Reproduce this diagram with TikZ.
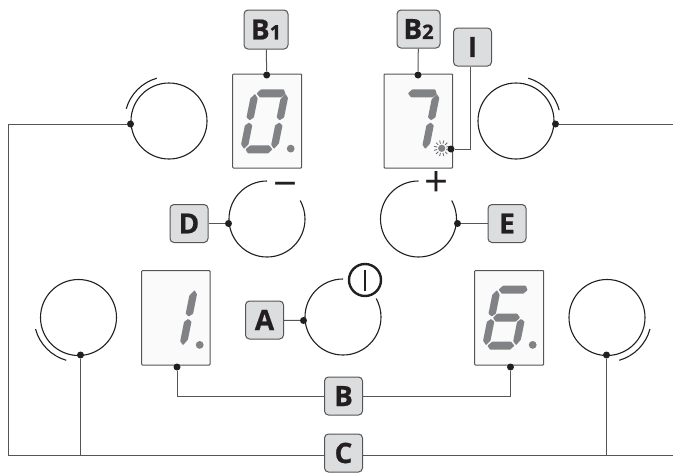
\documentclass[tikz,border=0pt]{standalone}
\usepackage{fontspec}
\setsansfont{Open Sans}[BoldFeatures={FakeBold=0.6}]
\newfontfamily\symfont{Open Sans}
\definecolor{seg}{HTML}{808285}
\definecolor{lab}{HTML}{DCDDDE}
\definecolor{wire}{HTML}{555555}
\definecolor{ink}{HTML}{231F20}
\tikzset{
  x=1pt,y=1pt,
  tag/.style={draw=wire,fill=lab,rounded corners=4pt,line width=1pt,minimum width=38pt,minimum height=38pt,inner sep=0pt,font=\sffamily\bfseries\fontsize{28}{28}\selectfont,text=ink},
  wirel/.style={draw=wire,line width=1pt},
  knob/.style={draw=ink,line width=1.1pt},
  blob/.style={circle,fill=ink,inner sep=0pt,minimum size=7pt},
  screen/.style={draw=wire,fill=black!2,line width=1pt,rounded corners=0.8pt},
  segm/.style={fill=seg,rounded corners=0.6pt},
  sym/.style={inner sep=0pt,text=ink,font=\symfont\fontsize{42}{42}\selectfont},
}
\newcommand{\segA}{\fill[segm] (-9.5,24)--(12,24)--(15.5,27.5)--(13,32)--(-10,32)--(-13.5,28)--cycle;}
\newcommand{\segG}{\fill[segm] (-10,-4)--(10,-4)--(13.5,0)--(10,4)--(-10,4)--(-13.5,0)--cycle;}
\newcommand{\segD}{\fill[segm] (-9.5,-24)--(9.5,-24)--(13.5,-28)--(10,-32)--(-10,-32)--(-13.5,-28)--cycle;}
\newcommand{\segB}{\fill[segm] (15.5,27.5)--(18.8,23.5)--(18.8,4)--(15,1.2)--(11.4,4)--(11.4,22)--cycle;}
\newcommand{\segC}{\fill[segm] (15,-1.2)--(18.8,-4)--(18.8,-22)--(15,-27.5)--(11.4,-23.5)--(11.4,-4)--cycle;}
\newcommand{\segF}{\fill[segm] (-15,27.5)--(-11.4,23)--(-11.4,4)--(-15,1.2)--(-18.8,4)--(-18.8,23)--cycle;}
\newcommand{\segE}{\fill[segm] (-15,-1.2)--(-11.4,-4)--(-11.4,-23)--(-15,-27.5)--(-18.8,-23)--(-18.8,-4)--cycle;}
\newcommand{\segs}[3]{\begin{scope}[shift={(#1+31.8,-#2-47.4)},xslant=0.2]#3\end{scope}}
\newcommand{\dotp}[2]{\fill[seg] (#1+58,-#2-74.6) circle[radius=3.9];}
\begin{document}
\begin{tikzpicture}
\useasboundingbox (0,0) rectangle (673,-472);
% circle centres
\coordinate (cTL) at (169,-121);
\coordinate (cTR) at (516,-121);
\coordinate (cBL) at (78.5,-317.5);
\coordinate (cBR) at (607,-317.5);
% full knobs
\draw[knob] (cTL) circle[radius=38];
\draw[knob] (cTR) circle[radius=38];
\draw[knob] (cBL) circle[radius=38];
\draw[knob] (cBR) circle[radius=38];
\draw[knob] (cTL) ++(164:44.5) arc[start angle=164,end angle=106,radius=44.5];
\draw[knob] (cTR) ++(74:44.5) arc[start angle=74,end angle=14,radius=44.5];
\draw[knob] (cBL) ++(195:44.5) arc[start angle=195,end angle=254,radius=44.5];
\draw[knob] (cBR) ++(286:44.5) arc[start angle=286,end angle=345,radius=44.5];
% open knobs
\draw[knob] (267,-181) arc[start angle=90,end angle=389,radius=38];
\draw[knob] (418.5,-181) arc[start angle=90,end angle=389,radius=38];
\draw[knob] (343,-279) arc[start angle=90,end angle=389,radius=38];
% symbols
\node[sym] at (286,-190) {−};
\node[sym] at (436.7,-184) {+};
\draw[ink,line width=2.4pt] (365,-280) circle[radius=16];
\draw[ink,line width=1.2pt] (365,-270) -- (365,-291);
% displays
\draw[screen] (232.7,-74) rectangle (301.7,-168);
\draw[screen] (384,-74) rectangle (452.7,-168);
\draw[screen] (141.7,-270.5) rectangle (210,-365);
\draw[screen] (474.7,-270.5) rectangle (543.7,-365);
\segs{232.7}{74}{\segA\segB\segC\segD\segE\segF}
\dotp{232.7}{74}
\segs{384}{74}{\segA\segB\segC}
\segs{141.7}{270.3}{\segB\segC}
\dotp{141.7}{270.3}
\segs{474.7}{270.3}{\segA\segC\segD\segE\segF\segG}
\dotp{474.7}{270.3}
% spark
\fill[seg] (441.7,-148.3) circle[radius=3.6];
\foreach \a in {15,45,...,345}
  \draw[seg!80!black,line width=0.8pt] (441.7,-148.3) ++(\a:4.8) -- ++(\a:3.2);
% tags
\node[tag,minimum width=44pt,minimum height=39pt] (tB1) at (266,-29.5) {B\fontsize{20}{20}\selectfont 1};
\node[tag,minimum width=43pt,minimum height=38pt] (tB2) at (418.5,-29) {B\fontsize{20}{20}\selectfont 2};
\node[tag] (tI) at (472.5,-47) {I};
\node[tag] (tD) at (189,-223.5) {D};
\node[tag] (tE) at (507,-223.5) {E};
\node[tag] (tA) at (264.5,-320) {A};
\node[tag] (tB) at (343.5,-396) {B};
\node[tag] (tC) at (343.5,-453) {C};
% dots
\node[blob] (dTL) at (130.5,-124) {};
\node[blob] (dTR) at (555.5,-124) {};
\node[blob] (dBL) at (80.5,-355) {};
\node[blob] (dBR) at (606.5,-355) {};
\node[blob] (dB1) at (266.7,-75) {};
\node[blob] (dB2) at (418,-75) {};
\node[blob] (dI) at (451,-149) {};
\node[blob] (dD) at (228.5,-223.5) {};
\node[blob] (dE) at (457.5,-223.5) {};
\node[blob] (dA) at (303.5,-320.5) {};
\node[blob] (d1) at (177,-367) {};
\node[blob] (d6) at (510.5,-367) {};
\coordinate (eR) at (673,-124);
\coordinate (bL) at (8,-455);
\coordinate (bR) at (673,-455);
\coordinate (iX) at (470,-149);
% connectors
\draw[wirel] (tB1) -- (dB1);
\draw[wirel] (tB2) -- (dB2);
\draw[wirel] (tI.south -| iX) -- (iX) -- (dI);
\draw[wirel] (tD) -- (dD);
\draw[wirel] (tE) -- (dE);
\draw[wirel] (tA) -- (dA);
\draw[wirel] (dTR) -- (eR);
\draw[wirel] (d1) |- (tB);
\draw[wirel] (d6) |- (tB);
\draw[wirel] (dTL) -| (bL) -- (tC.west |- bL);
\draw[wirel] (tC.east |- bR) -- (bR);
\draw[wirel] (dBL) -- (dBL |- bL);
\draw[wirel] (dBR) -- (dBR |- bR);
\end{tikzpicture}
\end{document}
